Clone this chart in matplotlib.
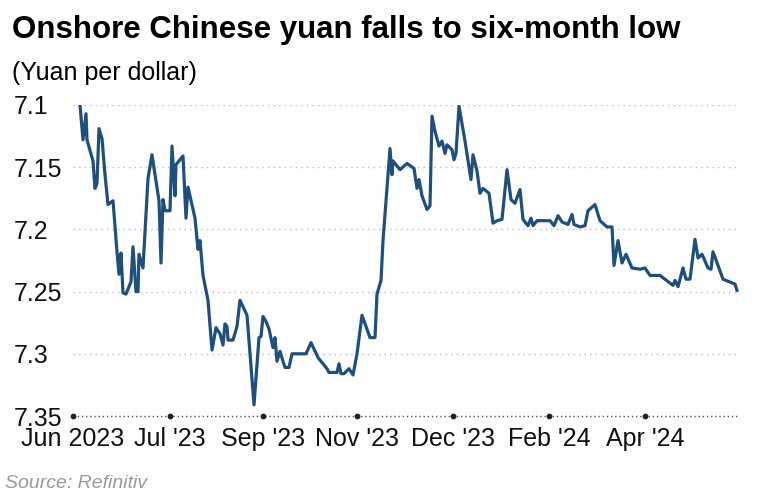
import matplotlib.pyplot as plt

plt.rcParams['font.family'] = ['Liberation Sans', 'DejaVu Sans']

# x positions along the time axis (chart units), yuan per dollar
xs = [80, 83, 86, 87, 93, 95, 97, 99, 102, 105, 108, 113, 117, 119, 121, 123, 126, 131, 133, 136,
      138, 139, 143, 148, 152, 159, 161, 163, 165, 170, 172, 175, 176, 183, 186, 188, 195, 198, 200, 203,
      208, 212, 216, 220, 223, 225, 227, 228, 233, 237, 240, 247, 254, 259, 261, 263, 266, 269, 273, 275,
      277, 280, 283, 285, 289, 292, 306, 311, 318, 327, 329, 337, 339, 341, 344, 349, 353, 357, 362, 370,
      375, 377, 381, 383, 390, 392, 393, 400, 407, 414, 417, 419, 422, 427, 430, 432, 435, 439, 442, 445,
      447, 452, 454, 456, 459, 465, 471, 473, 477, 480, 483, 489, 493, 497, 502, 507, 511, 515, 520, 523,
      528, 531, 533, 537, 550, 554, 558, 562, 568, 572, 574, 580, 585, 588, 595, 600, 607, 612, 614, 618,
      622, 626, 632, 640, 645, 650, 660, 673, 675, 678, 683, 686, 690, 695, 698, 702, 708, 711, 713, 723,
      735, 737]
rate = [7.100, 7.128, 7.107, 7.128, 7.145, 7.167, 7.163, 7.119, 7.127, 7.156, 7.180, 7.177, 7.218, 7.236,
        7.219, 7.251, 7.252, 7.242, 7.214, 7.250, 7.250, 7.220, 7.231, 7.159, 7.140, 7.177, 7.227, 7.176,
        7.185, 7.185, 7.133, 7.173, 7.148, 7.141, 7.191, 7.166, 7.191, 7.216, 7.209, 7.237, 7.257, 7.297,
        7.279, 7.284, 7.293, 7.276, 7.278, 7.289, 7.289, 7.278, 7.257, 7.269, 7.341, 7.287, 7.286, 7.270,
        7.274, 7.280, 7.295, 7.287, 7.306, 7.298, 7.306, 7.311, 7.311, 7.300, 7.300, 7.291, 7.303, 7.312,
        7.315, 7.315, 7.308, 7.316, 7.316, 7.312, 7.317, 7.300, 7.269, 7.287, 7.287, 7.252, 7.241, 7.209,
        7.135, 7.156, 7.145, 7.152, 7.147, 7.151, 7.167, 7.160, 7.173, 7.184, 7.181, 7.109, 7.121, 7.133,
        7.129, 7.139, 7.132, 7.136, 7.144, 7.139, 7.101, 7.129, 7.160, 7.140, 7.153, 7.171, 7.167, 7.171,
        7.195, 7.193, 7.192, 7.152, 7.176, 7.179, 7.168, 7.192, 7.197, 7.191, 7.197, 7.193, 7.193, 7.197,
        7.189, 7.194, 7.196, 7.188, 7.196, 7.198, 7.197, 7.185, 7.180, 7.193, 7.198, 7.198, 7.229, 7.209,
        7.227, 7.220, 7.231, 7.232, 7.231, 7.237, 7.237, 7.245, 7.241, 7.246, 7.231, 7.240, 7.240, 7.208,
        7.223, 7.220, 7.231, 7.232, 7.218, 7.240, 7.244, 7.249]

tick_pos = [73, 170, 263, 357, 453, 549, 645]
tick_labels = ["Jun 2023", "Jul '23", "Sep '23", "Nov '23", "Dec '23", "Feb '24", "Apr '24"]
y_ticks = [7.1, 7.15, 7.2, 7.25, 7.3, 7.35]
y_labels = ["7.1", "7.15", "7.2", "7.25", "7.3", "7.35"]

fig = plt.figure(figsize=(7.69, 4.96), dpi=100)
ax = fig.add_axes([73 / 769, 1 - 416 / 496, (739 - 73) / 769, (416 - 105) / 496])

for y in y_ticks[:-1]:
    ax.axhline(y, color='#bbbbbb', lw=1, ls=(0, (1, 3)), zorder=1)
ax.axhline(7.35, color='#555555', lw=1, ls=(0, (1, 2)), zorder=1, clip_on=False)
ax.scatter(tick_pos, [7.35] * len(tick_pos), s=10, color='#222222', zorder=3, clip_on=False)

ax.plot(xs, rate, color='#1d4f7f', lw=2.3, zorder=2, solid_joinstyle='round')

ax.set_xlim(73, 739)
ax.set_ylim(7.35, 7.1)
for s in ax.spines.values():
    s.set_visible(False)
ax.set_yticks(y_ticks, y_labels)
ax.set_xticks(tick_pos, tick_labels)
ax.tick_params(length=0, labelsize=18, colors='#111111')
ax.tick_params(axis='y', pad=43)
for t in ax.get_yticklabels():
    t.set_ha('left')
ax.tick_params(axis='x', pad=8)

fig.text(12 / 769, 1 - 30 / 496, "Onshore Chinese yuan falls to six-month low",
         fontsize=22.5, fontweight='bold', va='center')
fig.text(12 / 769, 1 - 73 / 496, "(Yuan per dollar)", fontsize=18, va='center')
fig.text(5 / 769, 1 - 483 / 496, "Source: Refinitiv", fontsize=14, style='italic',
         color='#999999', va='center')

fig.savefig("out.png", dpi=100)
